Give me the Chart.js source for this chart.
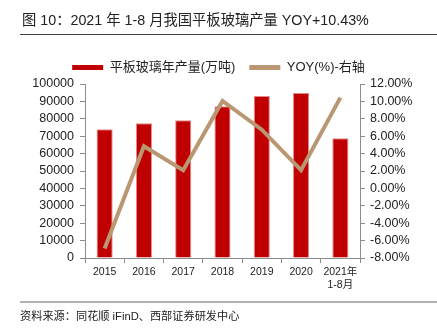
<!DOCTYPE html>
<html>
<head>
<meta charset="utf-8">
<script src="https://cdn.jsdelivr.net/npm/chart.js@4"></script>
<style>
  html, body { margin: 0; padding: 0; background: #fff; }
  #wrap { width: 437px; height: 334px; }
</style>
</head>
<body>
<div id="wrap"><canvas id="chart" width="437" height="334"></canvas></div>
<script>
const years = ["2015", "2016", "2017", "2018", "2019", "2020", ["2021年", "1-8月"]];
const output = [74000, 77400, 79100, 87200, 93100, 94800, 68800];
const yoy = [-6.9, 4.85, 2.1, 10.05, 6.75, 2.1, 10.43];

const titleText = "图 10：2021 年 1-8 月我国平板玻璃产量 YOY+10.43%";
const sourceText = "资料来源：同花顺 iFinD、西部证券研发中心";

const latin = "'Liberation Sans', Arial, 'Noto Sans CJK SC', sans-serif";
const axisGrey = "#8c8c8c";

// title, rules and source note around the chart
const decor = {
  id: "decor",
  afterDraw(chart) {
    const ctx = chart.ctx;
    ctx.save();
    ctx.fillStyle = "#222";
    ctx.font = "14.3px " + latin;
    ctx.textBaseline = "alphabetic";
    ctx.fillText(titleText, 22, 25);
    ctx.strokeStyle = "#444";
    ctx.lineWidth = 1;
    ctx.beginPath();
    ctx.moveTo(20, 34.5);
    ctx.lineTo(437, 34.5);
    ctx.stroke();
    ctx.strokeStyle = "#999";
    ctx.lineWidth = 1.5;
    ctx.beginPath();
    ctx.moveTo(20, 302);
    ctx.lineTo(437, 302);
    ctx.stroke();
    ctx.font = "11.2px " + latin;
    ctx.textBaseline = "middle";
    ctx.fillStyle = "#222";
    ctx.fillText(sourceText, 20, 317);
    ctx.restore();
  }
};

new Chart(document.getElementById("chart"), {
  type: "bar",
  data: {
    labels: years,
    datasets: [
      {
        type: "bar",
        label: "平板玻璃年产量(万吨)",
        data: output,
        yAxisID: "y",
        backgroundColor: "#C00000",
        borderColor: "#E58A8A",
        borderWidth: 1,
        barPercentage: 0.41,
        categoryPercentage: 1,
        order: 1,
      },
      {
        type: "line",
        label: "YOY(%)-右轴",
        data: yoy,
        yAxisID: "y1",
        borderColor: "#BA9773",
        backgroundColor: "#BA9773",
        borderWidth: 4,
        pointRadius: 0,
        tension: 0,
        order: 0,
      },
    ],
  },
  options: {
    responsive: false,
    animation: false,
    layout: { padding: { top: 47, left: 0, right: 0, bottom: 34 } },
    plugins: {
      tooltip: { enabled: false },
      legend: {
        display: true,
        position: "top",
        labels: {
          boxWidth: 31,
          boxHeight: 5,
          padding: 14,
          color: "#222",
          font: { size: 13, family: latin },
          sort: (a, b) => a.datasetIndex - b.datasetIndex,
          generateLabels(chart) {
            const items = Chart.defaults.plugins.legend.labels.generateLabels(chart);
            items.forEach((it) => { it.lineWidth = 0; });
            return items;
          },
        },
      },
    },
    scales: {
      x: {
        offset: true,
        grid: { offset: true, drawOnChartArea: false, tickLength: 5, color: axisGrey },
        border: { color: axisGrey },
        ticks: { color: "#222", font: { size: 10.5, family: latin }, padding: 3, maxRotation: 0 },
        afterFit(scale) { scale.height = 42; },
      },
      y: {
        position: "left",
        min: 0,
        max: 100000,
        ticks: {
          stepSize: 10000,
          autoSkip: false,
          color: "#222",
          font: { size: 12.5, family: latin },
          padding: 6,
          callback: (v) => String(v),
        },
        grid: { drawOnChartArea: false, tickLength: 5, color: axisGrey },
        border: { color: axisGrey },
        afterFit(scale) { scale.width = 85; },
      },
      y1: {
        position: "right",
        min: -8,
        max: 12,
        ticks: {
          stepSize: 2,
          autoSkip: false,
          color: "#222",
          font: { size: 12.5, family: latin },
          padding: 5,
          callback: (v) => v.toFixed(2) + "%",
        },
        grid: { drawOnChartArea: false, tickLength: 5, color: axisGrey },
        border: { color: axisGrey },
        afterFit(scale) { scale.width = 77; },
      },
    },
  },
  plugins: [decor],
});
</script>
</body>
</html>
